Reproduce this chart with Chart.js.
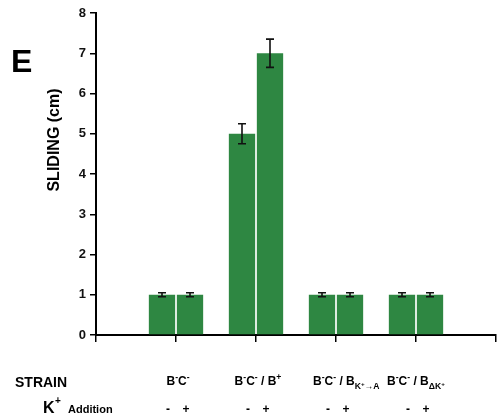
<!DOCTYPE html>
<html>
<head>
<meta charset="utf-8">
<script src="https://cdn.jsdelivr.net/npm/chart.js@4"></script>
<style>
  html, body { margin: 0; padding: 0; background: #fff; }
  #wrap { width: 501px; height: 419px; position: relative; }
</style>
</head>
<body>
<div id="wrap"><canvas id="c" width="501" height="419"></canvas></div>
<script>
// ---- data ----
const categories = ['B^{-}C^{-}', 'B^{-}C^{-} / B^{+}', 'B^{-}C^{-} / B_{K^{+}→A}', 'B^{-}C^{-} / B_{ΔK^{+}}'];
const kMinusValues = [1.0, 5.0, 1.0, 1.0];
const kPlusValues  = [1.0, 7.0, 1.0, 1.0];
const kMinusErrors = [0.05, 0.25, 0.05, 0.05];
const kPlusErrors  = [0.05, 0.35, 0.05, 0.05];
const yTicks = [0, 1, 2, 3, 4, 5, 6, 7, 8];
const additionSigns = ['-', '+'];

const FONT = "Arial, 'Liberation Sans', sans-serif";
const GREEN = '#2e8742';

// pad category axis with empty slots at both ends
const labels = [''].concat(categories).concat(['']);
const pad = arr => [null].concat(arr).concat([null]);

// tiny rich-text parser: ^{..} superscript, _{..} subscript
function parseRich(s, size, shift, out) {
  let i = 0, buf = '';
  const flush = () => { if (buf) { out.push({ t: buf, size, shift }); buf = ''; } };
  while (i < s.length) {
    const c = s[i];
    if ((c === '^' || c === '_') && s[i + 1] === '{') {
      flush();
      let depth = 1, j = i + 2;
      while (j < s.length && depth > 0) { if (s[j] === '{') depth++; else if (s[j] === '}') depth--; j++; }
      const inner = s.slice(i + 2, j - 1);
      const ns = size * 0.72;
      const ds = c === '^' ? -size * 0.4 : size * 0.35;
      parseRich(inner, ns, shift + ds, out);
      i = j;
    } else { buf += c; i++; }
  }
  flush();
  return out;
}
function drawRich(ctx, str, x, y, size, align) {
  const segs = parseRich(str, size, 0, []);
  let w = 0;
  segs.forEach(s => { ctx.font = 'bold ' + s.size + 'px ' + FONT; s.w = ctx.measureText(s.t).width; w += s.w; });
  let cx = align === 'left' ? x : x - w / 2;
  ctx.textBaseline = 'alphabetic';
  ctx.textAlign = 'left';
  segs.forEach(s => { ctx.font = 'bold ' + s.size + 'px ' + FONT; ctx.fillText(s.t, cx, y + s.shift); cx += s.w; });
}

const extrasPlugin = {
  id: 'extras',
  afterDatasetsDraw(chart) {
    const ctx = chart.ctx;
    const ys = chart.scales.y;
    const errs = [pad(kMinusErrors), pad(kPlusErrors)];
    ctx.save();
    ctx.strokeStyle = '#111';
    ctx.lineWidth = 1.6;
    chart.data.datasets.forEach((ds, di) => {
      const meta = chart.getDatasetMeta(di);
      meta.data.forEach((el, i) => {
        const v = ds.data[i];
        if (v == null) return;
        const e = errs[di][i];
        const x = el.x;
        const yt = ys.getPixelForValue(v + e), yb = ys.getPixelForValue(v - e);
        ctx.beginPath();
        ctx.moveTo(x, yt); ctx.lineTo(x, yb);
        ctx.moveTo(x - 4, yt); ctx.lineTo(x + 4, yt);
        ctx.moveTo(x - 4, yb); ctx.lineTo(x + 4, yb);
        ctx.stroke();
      });
    });
    ctx.restore();
  },
  afterDraw(chart) {
    const ctx = chart.ctx;
    const xs = chart.scales.x;
    ctx.save();
    ctx.fillStyle = '#000';
    // panel letter
    ctx.font = 'bold 32px ' + FONT;
    ctx.textAlign = 'left';
    ctx.textBaseline = 'alphabetic';
    ctx.fillText('E', 11, 72);
    // y-axis title
    ctx.save();
    ctx.translate(55, 140);
    ctx.rotate(-Math.PI / 2);
    ctx.font = 'bold 16px ' + FONT;
    ctx.textAlign = 'center';
    ctx.textBaseline = 'middle';
    ctx.fillText('SLIDING (cm)', 0, 0);
    ctx.restore();
    // row headers
    ctx.font = 'bold 14px ' + FONT;
    ctx.textAlign = 'left';
    ctx.fillText('STRAIN', 15, 387);
    ctx.font = 'bold 16px ' + FONT;
    ctx.fillText('K', 43, 413);
    ctx.font = 'bold 10px ' + FONT;
    ctx.fillText('+', 55, 404);
    ctx.font = 'bold 11px ' + FONT;
    ctx.fillText('Addition', 68, 413);
    // strain labels & +/- row
    categories.forEach((c, k) => {
      const cx = xs.getPixelForValue(k + 1);
      if (k === 2) drawRich(ctx, c, cx - 23, 385, 12, 'left');
      else if (k === 3) drawRich(ctx, c, cx - 29, 385, 12, 'left');
      else drawRich(ctx, c, cx + 2, 385, 12, 'center');
      ctx.font = 'bold 12px ' + FONT;
      ctx.textAlign = 'center';
      ctx.fillText(additionSigns[0], cx - 8, 413);
      ctx.fillText(additionSigns[1], cx + 10, 413);
    });
    ctx.restore();
  }
};

new Chart(document.getElementById('c'), {
  type: 'bar',
  data: {
    labels: labels,
    datasets: [
      { label: 'K+ -', data: pad(kMinusValues), backgroundColor: GREEN, borderWidth: 0,
        categoryPercentage: 0.7, barPercentage: 0.94 },
      { label: 'K+ +', data: pad(kPlusValues), backgroundColor: GREEN, borderWidth: 0,
        categoryPercentage: 0.7, barPercentage: 0.94 }
    ]
  },
  options: {
    responsive: false,
    animation: false,
    layout: { padding: { top: 13, right: 5, left: 0, bottom: 0 } },
    plugins: { legend: { display: false }, tooltip: { enabled: false } },
    scales: {
      x: {
        type: 'category',
        offset: false,
        grid: { display: true, offset: false, drawOnChartArea: false, drawTicks: true, tickLength: 7, color: '#000', lineWidth: 1.5 },
        border: { display: true, color: '#000', width: 2 },
        ticks: { display: false },
        afterFit: s => { s.height = 84; }
      },
      y: {
        min: 0, max: 8,
        afterBuildTicks: s => { s.ticks = yTicks.map(v => ({ value: v })); },
        grid: { display: true, drawOnChartArea: false, drawTicks: true, tickLength: 6, color: '#000', lineWidth: 1.5 },
        border: { display: true, color: '#000', width: 2 },
        ticks: { color: '#111', font: { family: FONT, size: 13, weight: 'bold' }, padding: 4 },
        afterFit: s => { s.width = 96; }
      }
    }
  },
  plugins: [extrasPlugin]
});
</script>
</body>
</html>
